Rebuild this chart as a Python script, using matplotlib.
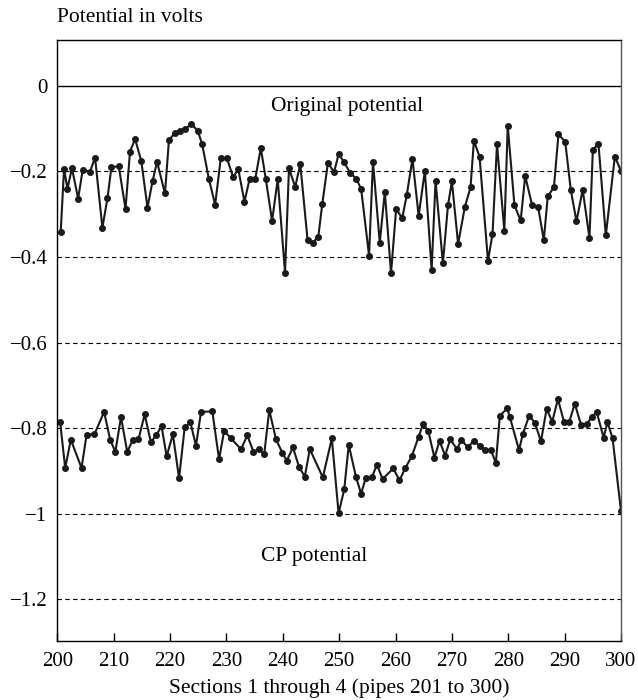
import numpy as np
import matplotlib
matplotlib.use("Agg")
import matplotlib.pyplot as plt

plt.rcParams['font.family'] = ['Liberation Serif', 'DejaVu Serif']

# original potential (upper curve)
orig_x = [200.6, 201.2, 201.8, 202.6, 203.7, 204.5, 205.8, 206.7, 208.0, 208.9,
          209.6, 210.9, 212.1, 212.9, 213.8, 214.9, 216.0, 216.9, 217.7, 219.1,
          219.8, 220.8, 221.7, 222.7, 223.8, 224.9, 225.7, 226.9, 228.0, 229.0,
          230.1, 231.2, 232.1, 233.2, 234.1, 235.1, 236.1, 237.0, 238.1, 239.1,
          240.4, 241.1, 242.2, 243.1, 244.4, 245.3, 246.3, 247.0, 248.0, 249.1,
          249.9, 250.9, 251.9, 253.0, 253.9, 255.3, 256.0, 257.2, 258.1, 259.2,
          260.1, 261.2, 262.0, 263.0, 264.1, 265.2, 266.4, 267.1, 268.4, 269.3,
          270.0, 271.1, 272.3, 273.3, 273.9, 274.9, 276.4, 277.2, 278.0, 279.3,
          279.9, 281.1, 282.2, 283.0, 284.2, 285.3, 286.3, 287.0, 288.1, 288.9,
          290.1, 291.1, 292.1, 293.2, 294.4, 295.0, 296.0, 297.3, 298.9, 300.0]
orig_v = [-0.343, -0.194, -0.241, -0.193, -0.264, -0.197, -0.201, -0.168, -0.332, -0.263,
          -0.191, -0.188, -0.288, -0.154, -0.125, -0.176, -0.285, -0.223, -0.178, -0.252,
          -0.128, -0.111, -0.105, -0.101, -0.090, -0.105, -0.137, -0.219, -0.278, -0.170,
          -0.170, -0.214, -0.195, -0.271, -0.219, -0.219, -0.146, -0.219, -0.316, -0.219,
          -0.437, -0.193, -0.237, -0.183, -0.361, -0.367, -0.353, -0.277, -0.181, -0.202,
          -0.160, -0.179, -0.203, -0.217, -0.241, -0.397, -0.178, -0.367, -0.248, -0.438,
          -0.289, -0.309, -0.255, -0.171, -0.304, -0.199, -0.430, -0.223, -0.415, -0.280,
          -0.224, -0.370, -0.283, -0.238, -0.129, -0.166, -0.409, -0.347, -0.137, -0.339,
          -0.094, -0.280, -0.315, -0.211, -0.278, -0.284, -0.361, -0.259, -0.237, -0.114,
          -0.131, -0.245, -0.317, -0.243, -0.356, -0.150, -0.136, -0.350, -0.166, -0.199]

# CP potential (lower curve)
cp_x = [200.5, 201.4, 202.4, 204.3, 205.2, 206.6, 208.3, 209.4, 210.3, 211.3,
        212.4, 213.4, 214.4, 215.5, 216.6, 217.5, 218.5, 219.4, 220.5, 221.6,
        222.6, 223.6, 224.6, 225.5, 227.5, 228.7, 229.6, 230.8, 232.6, 233.7,
        234.8, 235.7, 236.7, 237.6, 238.8, 239.9, 240.7, 241.8, 242.9, 243.9,
        244.8, 247.1, 248.7, 249.9, 250.9, 251.7, 253.0, 253.9, 254.7, 255.8,
        256.7, 257.7, 259.6, 260.7, 261.7, 262.9, 264.1, 264.9, 265.8, 266.9,
        267.8, 268.8, 269.7, 270.9, 271.7, 272.8, 273.9, 274.9, 275.8, 276.9,
        277.8, 278.5, 279.8, 280.3, 281.9, 282.6, 283.7, 284.7, 285.8, 286.8,
        287.8, 288.8, 289.9, 290.8, 291.8, 292.9, 294.0, 294.8, 295.7, 296.9,
        297.6, 298.5, 300.0]
cp_v = [-0.785, -0.893, -0.827, -0.893, -0.815, -0.814, -0.762, -0.828, -0.855, -0.774,
        -0.855, -0.828, -0.826, -0.768, -0.833, -0.817, -0.796, -0.866, -0.814, -0.917,
        -0.798, -0.786, -0.841, -0.762, -0.761, -0.873, -0.806, -0.824, -0.849, -0.817,
        -0.855, -0.849, -0.861, -0.758, -0.826, -0.857, -0.876, -0.845, -0.891, -0.913,
        -0.849, -0.915, -0.824, -0.999, -0.943, -0.839, -0.915, -0.953, -0.917, -0.915,
        -0.885, -0.919, -0.894, -0.922, -0.894, -0.865, -0.820, -0.790, -0.806, -0.869,
        -0.830, -0.864, -0.826, -0.849, -0.827, -0.845, -0.829, -0.841, -0.852, -0.851,
        -0.881, -0.771, -0.754, -0.775, -0.851, -0.813, -0.771, -0.787, -0.831, -0.755,
        -0.785, -0.732, -0.786, -0.786, -0.743, -0.792, -0.790, -0.773, -0.763, -0.822,
        -0.786, -0.824, -0.994]

yticks = [0, -0.2, -0.4, -0.6, -0.8, -1.0, -1.2]
ytick_labels = ['0', '\u22120.2', '\u22120.4', '\u22120.6', '\u22120.8', '\u22121', '\u22121.2']
xticks = list(range(200, 301, 10))

fig = plt.figure(figsize=(6.38, 7.0), dpi=100)
ax = fig.add_axes([0.0898, 0.0843, 0.8836, 0.8586])

ax.axhline(0, color='black', lw=1.0)
for y in yticks[1:]:
    ax.axhline(y, color='black', lw=0.8, dashes=(4, 3))

ax.plot(orig_x, orig_v, color='#1a1a1a', lw=1.5, marker='o', ms=4)
ax.plot(cp_x, cp_v, color='#1a1a1a', lw=1.5, marker='o', ms=4)

ax.set_xlim(200, 300)
ax.set_ylim(-1.297, 0.1065)
ax.set_xticks(xticks)
ax.set_yticks(yticks)
ax.set_yticklabels(ytick_labels)
ax.tick_params(axis='x', direction='in', length=6, width=1, pad=8, labelsize=15)
ax.tick_params(axis='y', length=0, pad=7, labelsize=15)
for s in ax.spines.values():
    s.set_linewidth(1.0)
ax.spines['right'].set_color('#555555')

ax.text(251.4, -0.05, 'Original potential', ha='center', va='center', fontsize=15.5)
ax.text(245.6, -1.10, 'CP potential', ha='center', va='center', fontsize=15.5)
fig.text(57 / 638, 1 - 18 / 700, 'Potential in volts', ha='left', va='center', fontsize=15.5)
ax.set_xlabel('Sections 1 through 4 (pipes 201 to 300)', fontsize=15.5, labelpad=5)

fig.savefig('out.png', dpi=100)
